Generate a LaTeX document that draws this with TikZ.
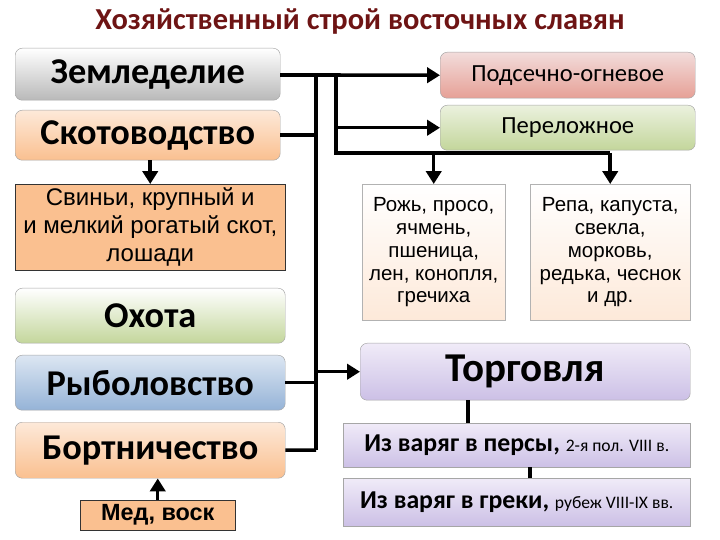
\documentclass[tikz,border=0pt]{standalone}
\usepackage{fontspec}
\setmainfont{Carlito}
\newfontfamily\arialf{Liberation Sans}
\usetikzlibrary{arrows.meta}
\definecolor{titlered}{RGB}{110,20,20}
\definecolor{peach}{RGB}{250,192,144}
\definecolor{peachlt}{RGB}{253,233,217}
\definecolor{greenlt}{RGB}{235,241,222}
\definecolor{greendk}{RGB}{195,214,155}
\definecolor{bluelt}{RGB}{220,230,242}
\definecolor{bluedk}{RGB}{149,179,215}
\definecolor{pinklt}{RGB}{242,220,219}
\definecolor{pinkdk}{RGB}{230,160,150}
\definecolor{lavlt}{RGB}{240,235,248}
\definecolor{lavdk}{RGB}{204,192,230}
\tikzset
{
  branch/.style={rounded corners=6pt,draw=gray!70,anchor=north west,inner sep=0pt,font=\bfseries\fontsize{31}{34}\selectfont},
  plain box/.style={draw=black!80,anchor=north west,inner sep=0pt,align=center,font=\arialf\fontsize{17.5}{19.5}\selectfont},
  link/.style={line width=3pt},
  tip/.style={line width=3pt,-{Triangle[length=11pt,width=13pt]}}
}
\begin{document}
\begin{tikzpicture}[x=0.03cm,y=-0.03cm]
  \useasboundingbox (0,0) rectangle (720,540);
  % title
  \node[font=\bfseries\fontsize{26}{30}\selectfont,text=titlered] (title) at (360,22) {Хозяйственный строй восточных славян};
  % left column
  \node[branch,top color=white,bottom color=gray!55,minimum width=265*0.03cm,minimum height=52*0.03cm] (zemled) at (15,48) {Земледелие};
  \node[branch,top color=peachlt,bottom color=peach,minimum width=265*0.03cm,minimum height=50*0.03cm] (skot) at (15,110) {Скотоводство};
  \node[plain box,fill=peach,font=\arialf\fontsize{20.5}{24}\selectfont,minimum width=270*0.03cm,minimum height=86*0.03cm] (svini) at (15,184) {Свиньи, крупный и\\и мелкий рогатый скот,\\лошади};
  \node[branch,top color=white,bottom color=greendk,minimum width=270*0.03cm,minimum height=55*0.03cm,text depth=-12pt] (ohota) at (15,288) {Охота};
  \node[branch,top color=bluelt,bottom color=bluedk,minimum width=270*0.03cm,minimum height=55*0.03cm] (ryba) at (15,355) {Рыболовство};
  \node[branch,top color=peachlt,bottom color=peach,minimum width=270*0.03cm,minimum height=56*0.03cm] (bort) at (15,422) {Бортничество};
  \node[plain box,fill=peach,font=\arialf\bfseries\fontsize{20}{24}\selectfont,minimum width=155*0.03cm,minimum height=30*0.03cm] (med) at (80,500) {Мед, воск};
  % right column
  \node[branch,top color=pinklt,bottom color=pinkdk,font=\fontsize{21}{24}\selectfont,minimum width=255*0.03cm,minimum height=46*0.03cm] (podsek) at (440,52) {Подсечно-огневое};
  \node[branch,top color=greenlt,bottom color=greendk,font=\fontsize{21}{24}\selectfont,minimum width=255*0.03cm,minimum height=45*0.03cm] (perel) at (440,105) {Переложное};
  \node[plain box,top color=white,bottom color=peachlt,draw=gray!60,minimum width=143*0.03cm,minimum height=136*0.03cm] (rozh) at (362,184) {Рожь, просо,\\ячмень,\\пшеница,\\лен, конопля,\\гречиха};
  \node[plain box,top color=white,bottom color=peachlt,draw=gray!60,minimum width=160*0.03cm,minimum height=136*0.03cm] (repa) at (530,184) {Репа, капуста,\\свекла,\\морковь,\\редька, чеснок\\и др.};
  \node[branch,top color=lavlt,bottom color=lavdk,font=\bfseries\fontsize{35}{38}\selectfont,minimum width=330*0.03cm,minimum height=57*0.03cm] (torg) at (360,343) {Торговля};
  \node[branch,rounded corners=0pt,top color=lavlt,bottom color=lavdk,font=\bfseries\fontsize{22}{25}\selectfont,minimum width=347*0.03cm,minimum height=44*0.03cm] (persy) at (343,423) {Из варяг в персы, {\mdseries\fontsize{15}{18}\selectfont 2-я пол. VIII в.}};
  \node[branch,rounded corners=0pt,top color=lavlt,bottom color=lavdk,font=\bfseries\fontsize{22}{25}\selectfont,minimum width=347*0.03cm,minimum height=48*0.03cm] (greki) at (343,478) {Из варяг в греки, {\mdseries\fontsize{15}{18}\selectfont рубеж VIII-IX вв.}};
  % connectors
  \coordinate (trunk top) at (316,75);
  \coordinate (trunk bot) at (316,450);
  \coordinate (fork top) at (336,75);
  \coordinate (fork bot) at (336,153);
  \draw[link] (zemled.east |- trunk top) -- (fork top);
  \draw[link] (trunk top) -- (trunk bot);
  \draw[link] (skot.east) -- (skot.east -| trunk top);
  \draw[link] (ryba.east) -- (ryba.east -| trunk top);
  \draw[link] (bort.east) -- (trunk bot);
  \draw[tip] (trunk top |- torg.west) -- (torg.west);
  \draw[link] (fork top) -- (fork bot) -- (fork bot -| repa.north);
  \draw[tip] (fork top) -- (podsek.west);
  \draw[tip] (fork top |- perel.west) -- (perel.west);
  \draw[tip] (fork bot -| rozh.north) -- (rozh.north);
  \draw[tip] (fork bot -| repa.north) -- (repa.north);
  \draw[tip] (skot.south -| svini.north) -- (svini.north);
  \draw[tip] (med.north) -- (med.north |- bort.south);
  \draw[link] (persy.north -| 468,0) -- (torg.south -| 468,0);
  \draw[link] (greki.north -| 530,0) -- (persy.south -| 530,0);
\end{tikzpicture}
\end{document}
